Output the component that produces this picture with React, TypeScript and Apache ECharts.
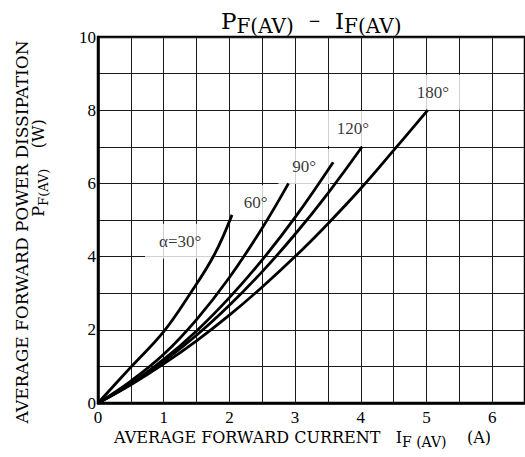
import React, { useEffect, useRef } from "react";
import * as echarts from "echarts";

const curve30: number[][] = [[0, 0], [0.5, 0.98], [1.0, 1.95], [1.4, 2.98], [1.77, 4.05], [2.04, 5.14]];
const curve60: number[][] = [[0, 0], [0.5, 0.6], [1.0, 1.33], [1.5, 2.28], [2.0, 3.43], [2.5, 4.78], [2.9, 6.0]];
const curve90: number[][] = [[0, 0], [0.5, 0.53], [1.0, 1.19], [1.5, 1.97], [2.0, 2.88], [2.5, 3.91], [3.0, 5.07], [3.58, 6.58]];
const curve120: number[][] = [[0, 0], [0.5, 0.52], [1.0, 1.14], [1.5, 1.85], [2.0, 2.67], [2.5, 3.59], [3.0, 4.61], [3.5, 5.73], [4.02, 7.0]];
const curve180: number[][] = [[0, 0], [0.5, 0.5], [1.0, 1.07], [1.5, 1.7], [2.0, 2.4], [2.5, 3.17], [3.0, 4.0], [3.5, 4.9], [4.0, 5.86], [4.5, 6.9], [5.02, 8.0]];

const curveLabels: string[] = ["α=30°", "60°", "90°", "120°", "180°"];
const labelX: number[] = [1.25, 2.4, 3.14, 3.88, 5.1];
const labelY: number[] = [4.42, 5.47, 6.46, 7.5, 8.49];

const xMin = 0, xMax = 6.5, xStep = 0.5;
const yMin = 0, yMax = 10, yStep = 1;

const SERIF = "DejaVu Serif";
const DIGITS = "Liberation Serif";

export default function App() {
  const ref = useRef<HTMLDivElement>(null);
  useEffect(() => {
    if (!ref.current) return;
    const chart = echarts.init(ref.current, undefined, { renderer: "svg" });
    const curves = [curve30, curve60, curve90, curve120, curve180];
    const lineSeries = curves.map((d, i) => ({
      type: "line",
      name: curveLabels[i],
      data: d,
      smooth: 0.4,
      showSymbol: false,
      symbol: "none",
      z: 5,
      lineStyle: { color: "#000", width: 2.8 },
    }));
    const labelSeries = {
      type: "scatter",
      z: 3,
      symbolSize: 1,
      itemStyle: { color: "rgba(0,0,0,0)" },
      data: curveLabels.map((t, i) => [labelX[i], labelY[i], t]),
      label: {
        show: true,
        position: "inside",
        formatter: (p: any) => p.value[2],
        fontFamily: DIGITS,
        fontSize: 17,
        color: "#000",
        backgroundColor: "#fff",
        padding: [9, 14, 9, 14],
      },
    };
    chart.setOption({
      animation: false,
      backgroundColor: "#fff",
      title: {
        left: 216,
        top: 4,
        text: "{b|P}{s|F(AV)}{m|   −   }{b|I}{s|F(AV)}",
        textStyle: {
          fontWeight: "normal",
          rich: {
            b: { fontFamily: SERIF, fontWeight: "normal", fontSize: 23, color: "#000", verticalAlign: "bottom", padding: [0, 0, 4, 0] },
            s: { fontFamily: SERIF, fontWeight: "normal", fontSize: 20, color: "#000", verticalAlign: "bottom" },
            m: { fontFamily: SERIF, fontWeight: "normal", fontSize: 15, color: "#000", verticalAlign: "bottom", padding: [0, 0, 8, 0] },
          },
        },
      },
      grid: { left: 98, top: 37, width: 429, height: 366, show: true, borderColor: "#000", borderWidth: 2.5, backgroundColor: "transparent" },
      xAxis: {
        type: "value",
        min: xMin,
        max: xMax,
        interval: xStep,
        axisLine: { show: true, lineStyle: { color: "#000", width: 2.5 } },
        axisTick: { show: false },
        splitLine: { show: true, lineStyle: { color: "#1a1a1a", width: 1 } },
        axisLabel: {
          color: "#000",
          fontFamily: DIGITS,
          fontSize: 17,
          margin: 6,
          showMaxLabel: false,
          formatter: (v: number) => (Math.abs(v - Math.round(v)) < 1e-6 ? String(Math.round(v)) : ""),
        },
      },
      yAxis: {
        type: "value",
        min: yMin,
        max: yMax,
        interval: yStep,
        axisLine: { show: true, lineStyle: { color: "#000", width: 2.5 } },
        axisTick: { show: false },
        splitLine: { show: true, lineStyle: { color: "#1a1a1a", width: 1 } },
        axisLabel: {
          color: "#000",
          fontFamily: DIGITS,
          fontSize: 17,
          margin: 2,
          formatter: (v: number) => (Math.round(v) % 2 === 0 ? String(Math.round(v)) : ""),
        },
      },
      graphic: [
        {
          type: "text",
          x: 22,
          y: 232,
          rotation: Math.PI / 2,
          style: {
            text: "AVERAGE FORWARD POWER DISSIPATION",
            font: "17px DejaVu Serif",
            fill: "#000",
            align: "center",
            verticalAlign: "middle",
          },
        },
        {
          type: "text",
          x: 40,
          y: 168,
          rotation: Math.PI / 2,
          style: {
            text: "{b|P}{s|F(AV)}{b|    (W)}",
            fill: "#000",
            align: "center",
            verticalAlign: "middle",
            rich: {
              b: { fontFamily: SERIF, fontSize: 16, fill: "#000", verticalAlign: "bottom", padding: [0, 0, 4, 0] },
              s: { fontFamily: SERIF, fontSize: 13, fill: "#000", verticalAlign: "bottom" },
            },
          },
        },
        {
          type: "text",
          x: 114,
          y: 439,
          style: {
            text: "{b|AVERAGE FORWARD CURRENT   I}{s|F (AV)}{b|    (A)}",
            fill: "#000",
            align: "left",
            verticalAlign: "middle",
            rich: {
              b: { fontFamily: SERIF, fontSize: 16, fill: "#000", verticalAlign: "bottom", padding: [0, 0, 4, 0] },
              s: { fontFamily: SERIF, fontSize: 14, fill: "#000", verticalAlign: "bottom" },
            },
          },
        },
      ],
      series: [labelSeries, ...lineSeries],
    });
    return () => chart.dispose();
  }, []);
  return <div ref={ref} style={{ width: 525, height: 457, position: "absolute", left: 0, top: 0 }} />;
}
